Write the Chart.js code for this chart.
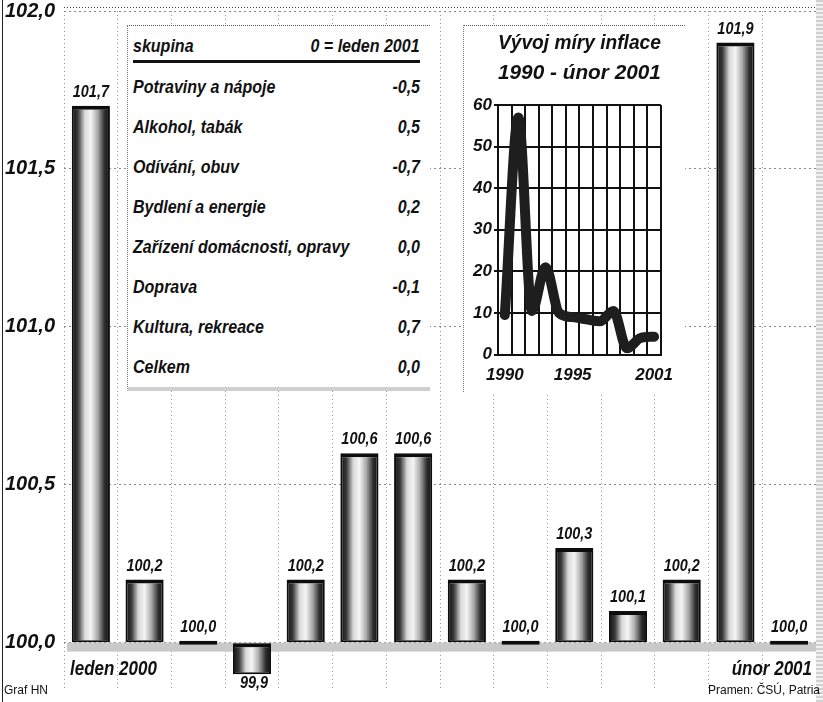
<!DOCTYPE html>
<html>
<head>
<meta charset="utf-8">
<script src="https://cdn.jsdelivr.net/npm/chart.js@4.4.0/dist/chart.umd.min.js"></script>
<style>
  body { margin: 0; background: #fff; }
  #wrap {
    position: relative; width: 823px; height: 702px; overflow: hidden; background: #fff;
    font-family: 'Liberation Sans Narrow', 'Liberation Sans', Arial, sans-serif; color: #111;
  }
  #main { position: absolute; left: 0; top: 0; }
  #frame { position: absolute; left: 2px; top: 0; width: 1px; height: 702px; background: #222; }
  #edge {
    position: absolute; right: 0; top: 0; width: 7px; height: 702px;
    background: repeating-linear-gradient(0deg, #d0d0d0 0 2px, #f2f2f2 2px 4px);
  }
  #table {
    position: absolute; left: 127px; top: 25px; width: 303px; height: 366px;
    background: #fff; box-sizing: border-box;
    border-top: 1px dotted #555; border-left: 1px dotted #777; border-bottom: 4px solid #cfcfcf;
    font-weight: bold; font-style: italic; font-size: 18px;
  }
  .row {
    position: absolute; left: 5px; right: 10px; height: 24px;
    display: flex; justify-content: space-between; align-items: center; white-space: nowrap;
  }
  .row span { display: inline-block; transform: scaleX(0.89); }
  .row span:first-child { transform-origin: left center; }
  .row span:last-child { transform-origin: right center; }
  .rule { position: absolute; left: 5px; right: 10px; top: 34px; height: 3px; background: #111; }
  #inset {
    position: absolute; left: 463px; top: 25px; width: 222px; height: 367px; background: #fff;
    border-top: 1px dotted #555; border-left: 1px dotted #777; box-sizing: border-box;
  }
  #inset canvas { position: absolute; left: -1px; top: -1px; }
  .foot { position: absolute; top: 683px; font-size: 12px; white-space: nowrap; }
</style>
</head>
<body>
<div id="wrap">
  <canvas id="main" width="823" height="702"></canvas>
  <div id="frame"></div>
  <div id="edge"></div>
  <div id="table"></div>
  <div id="inset"><canvas id="infl" width="222" height="372"></canvas></div>
  <div class="foot" style="left:4px">Graf HN</div>
  <div class="foot" style="right:3px">Pramen: ČSÚ, Patria</div>
</div>
<script>
// index values, previous month = 100
const months = ['leden 2000', 'únor 2000', 'březen 2000', 'duben 2000', 'květen 2000', 'červen 2000',
  'červenec 2000', 'srpen 2000', 'září 2000', 'říjen 2000', 'listopad 2000', 'prosinec 2000',
  'leden 2001', 'únor 2001'];
const indexValues = [101.7, 100.2, 100.0, 99.9, 100.2, 100.6, 100.6, 100.2, 100.0, 100.3, 100.1, 100.2, 101.9, 100.0];
const yTicks = [100.0, 100.5, 101.0, 101.5, 102.0];
const BASE = 100;

// table of groups
const tableHeader = ['skupina', '0 = leden 2001'];
const tableGroups = ['Potraviny a nápoje', 'Alkohol, tabák', 'Odívání, obuv', 'Bydlení a energie',
  'Zařízení domácnosti, opravy', 'Doprava', 'Kultura, rekreace', 'Celkem'];
const tableChanges = [-0.5, 0.5, -0.7, 0.2, 0.0, -0.1, 0.7, 0.0];

// inflation inset
const inflTitle = ['Vývoj míry inflace', '1990 - únor 2001'];
const inflYears = ['1990', '1991', '1992', '1993', '1994', '1995', '1996', '1997', '1998', '1999', '2000', '2001'];
const inflValues = [9.5, 57, 10.5, 21, 10, 9, 8.5, 8, 10.5, 1.5, 4, 4.3];
const inflShownYears = ['1990', '1995', '2001'];

const FONT = "'Liberation Sans Narrow', 'Liberation Sans', Arial, sans-serif";
const fmt = v => v.toFixed(1).replace('.', ',');

// build table
const table = document.getElementById('table');
function addRow(left, right, center) {
  const r = document.createElement('div');
  r.className = 'row';
  r.style.top = (center - 12) + 'px';
  r.innerHTML = '<span></span><span></span>';
  r.children[0].textContent = left;
  r.children[1].textContent = right;
  table.appendChild(r);
}
addRow(tableHeader[0], tableHeader[1], 20);
const rule = document.createElement('div');
rule.className = 'rule';
table.appendChild(rule);
tableGroups.forEach((g, i) => addRow(g, fmt(tableChanges[i]), 61 + i * 40));

function barFill(ctx) {
  const chart = ctx.chart;
  if (ctx.raw === BASE) return '#111';
  const x = chart.scales.x;
  if (!x || !chart.chartArea) return '#888';
  const cx = x.getPixelForValue(ctx.dataIndex);
  const w = chart.chartArea.width / months.length * 0.71;
  const g = chart.ctx.createLinearGradient(cx - w / 2, 0, cx + w / 2, 0);
  g.addColorStop(0, '#0d0d0d');
  g.addColorStop(0.16, '#3a3a3a');
  g.addColorStop(0.34, '#d8d8d8');
  g.addColorStop(0.5, '#f5f5f5');
  g.addColorStop(0.68, '#a8a8a8');
  g.addColorStop(0.86, '#2e2e2e');
  g.addColorStop(1, '#0d0d0d');
  return g;
}

// narrow text, the print uses a condensed face
function narrowText(c, txt, x, y, align) {
  c.save();
  c.translate(x, y);
  c.scale(0.85, 1);
  c.textAlign = align;
  c.fillText(txt, 0, 0);
  c.restore();
}

const decorations = {
  id: 'decorations',
  beforeDatasetsDraw(chart) {
    const c = chart.ctx, a = chart.chartArea;
    const y0 = chart.scales.y.getPixelForValue(BASE);
    c.save();
    c.fillStyle = '#c9c9c9';
    c.fillRect(a.left + 3, y0, a.right - a.left - 3, 9);
    c.strokeStyle = '#444';
    c.setLineDash([1, 2]);
    c.beginPath();
    c.moveTo(a.left, 7.5);
    c.lineTo(a.right + 2, 7.5);
    c.stroke();
    c.restore();
  },
  afterDatasetsDraw(chart) {
    const c = chart.ctx, a = chart.chartArea;
    const y0 = chart.scales.y.getPixelForValue(BASE);
    c.save();
    c.fillStyle = '#111';
    c.font = 'italic bold 17px ' + FONT;
    chart.getDatasetMeta(0).data.forEach((bar, i) => {
      const v = indexValues[i];
      const top = Math.min(bar.y, bar.base), bottom = Math.max(bar.y, bar.base);
      if (v < BASE) {
        c.textBaseline = 'top';
        narrowText(c, fmt(v), bar.x + 2, bottom + 1, 'center');
      } else {
        c.textBaseline = 'bottom';
        narrowText(c, fmt(v), bar.x, top - 5, 'center');
      }
    });
    c.font = 'italic bold 20px ' + FONT;
    c.textBaseline = 'middle';
    narrowText(c, months[0], a.left + 6, y0 + 27, 'left');
    narrowText(c, months[months.length - 1], a.right - 4, y0 + 27, 'right');
    c.restore();
  }
};

new Chart(document.getElementById('main'), {
  type: 'bar',
  data: {
    labels: months,
    datasets: [{
      data: indexValues,
      base: BASE,
      backgroundColor: barFill,
      borderColor: '#0d0d0d',
      borderWidth: { top: 4, bottom: 2, left: 2, right: 2 },
      borderSkipped: false,
      minBarLength: 4,
      barPercentage: 0.71,
      categoryPercentage: 1
    }]
  },
  options: {
    responsive: false,
    animation: false,
    events: [],
    layout: { padding: { top: 11, bottom: 12, left: 0, right: 7 } },
    plugins: { legend: { display: false }, tooltip: { enabled: false } },
    scales: {
      x: {
        afterFit: s => { s.height = 0; s.paddingLeft = 0; s.paddingRight = 0; },
        ticks: { display: false },
        grid: { offset: true, color: '#9a9a9a', lineWidth: 1, drawTicks: false },
        border: { display: false, dash: [1, 3] }
      },
      y: {
        min: 99.85,
        max: 102.0,
        afterFit: s => { s.width = 64; s.paddingTop = 0; s.paddingBottom = 0; },
        afterBuildTicks: s => { s.ticks = yTicks.map(v => ({ value: v })); },
        ticks: {
          callback: v => fmt(v),
          color: '#111',
          padding: 9,
          font: { family: FONT, size: 20, weight: 'bold', style: 'italic' }
        },
        grid: { color: '#8a8a8a', lineWidth: 1, drawTicks: false },
        border: { display: false, dash: [2, 3] }
      }
    }
  },
  plugins: [decorations]
});

// inset chart
new Chart(document.getElementById('infl'), {
  type: 'line',
  data: {
    labels: inflYears,
    datasets: [
      { data: inflValues, borderColor: '#1e1e1e', borderWidth: 10 },
      { data: inflValues, borderColor: '#8c8c8c', borderWidth: 6 }
    ].map(d => Object.assign(d, {
      pointRadius: 0, cubicInterpolationMode: 'monotone',
      borderCapStyle: 'round', borderJoinStyle: 'round', fill: false
    }))
  },
  options: {
    responsive: false,
    animation: false,
    events: [],
    layout: { padding: { left: 0, right: 2, top: 0, bottom: 0 } },
    plugins: {
      legend: { display: false },
      tooltip: { enabled: false },
      title: {
        display: true,
        text: inflTitle,
        fullSize: false,
        color: '#111',
        font: { family: FONT, size: 21, weight: 'bold', style: 'italic', lineHeight: 1.45 },
        padding: { top: 3, bottom: 16 }
      }
    },
    scales: {
      x: {
        offset: true,
        ticks: {
          autoSkip: false, maxRotation: 0, color: '#111', padding: 11,
          callback: function (v) {
            const l = this.getLabelForValue(v);
            return inflShownYears.includes(l) ? l : '';
          },
          font: { family: FONT, size: 17, weight: 'bold', style: 'italic' }
        },
        grid: { offset: true, color: '#111', lineWidth: 2, drawTicks: false },
        border: { color: '#111', width: 2 }
      },
      y: {
        min: 0, max: 60,
        afterFit: s => { s.width = 35; },
        ticks: {
          stepSize: 10, color: '#111', padding: 2,
          font: { family: FONT, size: 17, weight: 'bold', style: 'italic' }
        },
        grid: { color: '#111', lineWidth: 2, tickLength: 4 },
        border: { color: '#111', width: 2 }
      }
    }
  }
});
</script>
</body>
</html>
